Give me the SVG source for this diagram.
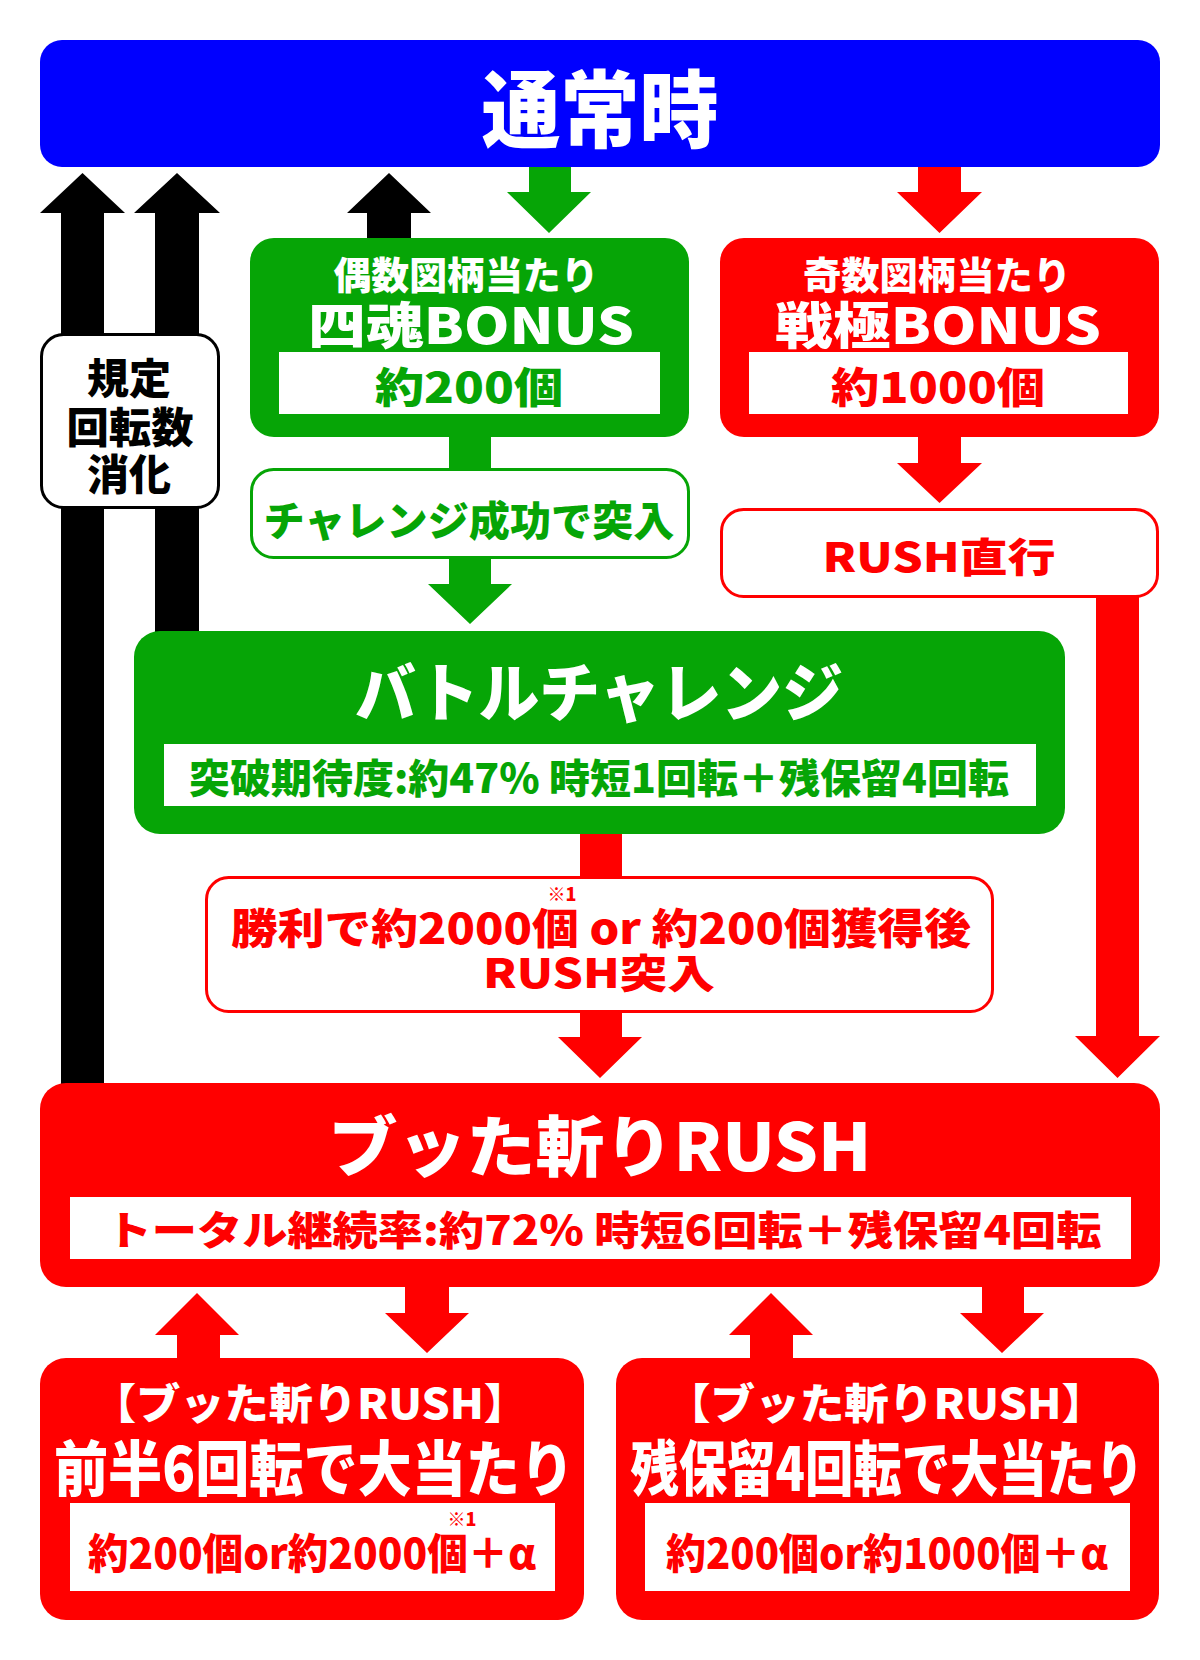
<svg xmlns="http://www.w3.org/2000/svg" width="1200" height="1660" viewBox="0 0 1200 1660">
<style>
text{font-family:"Noto Sans CJK JP","Noto Sans",sans-serif;font-weight:900;text-anchor:middle;dominant-baseline:central}
.w{fill:#fff}.g{fill:#06A506}.r{fill:#FF0000}.k{fill:#000}
.blue{fill:#0000FF}.gb{fill:#06A506}.rb{fill:#FF0000}
.wbox{fill:#fff}
.gout{fill:#fff;stroke:#06A506;stroke-width:3}
.rout{fill:#fff;stroke:#FF0000;stroke-width:3}
.kout{fill:#fff;stroke:#000;stroke-width:3}
</style>
<rect width="1200" height="1660" fill="#fff"/>
<g id="connectors">
  <!-- black up arrows -->
  <polygon class="k" points="61,1084 61,213 40,213 82.5,173 125,213 104,213 104,1084"/>
  <polygon class="k" points="155,632 155,213 134,213 177,173 220,213 199,213 199,632"/>
  <polygon class="k" points="367,240 367,213 347,213 389,173 431,213 411,213 411,240"/>
  <!-- green arrows -->
  <polygon class="g" points="529,166 529,192 507,192 549,233 591,192 571,192 571,166"/>
  <rect class="g" x="449" y="436" width="42" height="34"/>
  <polygon class="g" points="449,557 449,584 428,584 470,624 512,584 491,584 491,557"/>
  <!-- red arrows -->
  <polygon class="r" points="918,166 918,192 897,192 939.5,233 982,192 961,192 961,166"/>
  <polygon class="r" points="918,436 918,463 897,463 939.5,503 982,463 961,463 961,436"/>
  <polygon class="r" points="1096,596 1096,1036 1075,1036 1117.5,1078 1160,1036 1139,1036 1139,596"/>
  <rect class="r" x="580" y="833" width="42" height="45"/>
  <polygon class="r" points="580,1010 580,1037 558,1037 600,1078 642,1037 622,1037 622,1010"/>
  <!-- RUSH <-> sub boxes -->
  <polygon class="r" points="177,1360 177,1335 155,1335 197,1293 239,1335 220,1335 220,1360"/>
  <polygon class="r" points="405,1286 405,1313 385,1313 427,1353 469,1313 449,1313 449,1286"/>
  <polygon class="r" points="750,1360 750,1335 729,1335 771,1293 813,1335 793,1335 793,1360"/>
  <polygon class="r" points="982,1286 982,1313 960,1313 1002,1353 1044,1313 1024,1313 1024,1286"/>
</g>
<g id="normal">
  <rect class="blue" x="40" y="40" width="1120" height="127" rx="22"/>
  <text class="w" x="600" y="104" font-size="84" textLength="237" lengthAdjust="spacingAndGlyphs">通常時</text>
</g>
<g id="spin-count">
  <rect class="kout" x="41.5" y="334.5" width="177" height="173" rx="22"/>
  <text class="k" x="129" y="375" font-size="42">規定</text>
  <text class="k" x="130" y="424" font-size="42" textLength="127" lengthAdjust="spacingAndGlyphs">回転数</text>
  <text class="k" x="129" y="471" font-size="42">消化</text>
</g>
<g id="even-bonus">
  <rect class="gb" x="250" y="238" width="439" height="199" rx="24"/>
  <text class="w" x="466" y="272" font-size="38" textLength="265" lengthAdjust="spacingAndGlyphs">偶数図柄当たり</text>
  <text class="w" x="471" y="322" font-size="50" textLength="326" lengthAdjust="spacingAndGlyphs">四魂BONUS</text>
  <rect class="wbox" x="279" y="352" width="381" height="62"/>
  <text class="g" x="469" y="384" font-size="42" textLength="188" lengthAdjust="spacingAndGlyphs">約200個</text>
</g>
<g id="odd-bonus">
  <rect class="rb" x="720" y="238" width="439" height="199" rx="24"/>
  <text class="w" x="937" y="272" font-size="38" textLength="268" lengthAdjust="spacingAndGlyphs">奇数図柄当たり</text>
  <text class="w" x="938" y="322" font-size="50" textLength="326" lengthAdjust="spacingAndGlyphs">戦極BONUS</text>
  <rect class="wbox" x="749" y="352" width="379" height="62"/>
  <text class="r" x="938" y="384" font-size="42" textLength="214" lengthAdjust="spacingAndGlyphs">約1000個</text>
</g>
<g id="challenge-entry">
  <rect class="gout" x="251.5" y="469.5" width="437" height="88" rx="22"/>
  <text class="g" x="469" y="518" font-size="41" textLength="411" lengthAdjust="spacingAndGlyphs">チャレンジ成功で突入</text>
</g>
<g id="rush-direct">
  <rect class="rout" x="721.5" y="509.5" width="436" height="87" rx="22"/>
  <text class="r" x="939" y="555" font-size="40" textLength="233" lengthAdjust="spacingAndGlyphs">RUSH直行</text>
</g>
<g id="battle-challenge">
  <rect class="gb" x="134" y="631" width="931" height="203" rx="26"/>
  <text class="w" x="599" y="688" font-size="64" textLength="488" lengthAdjust="spacingAndGlyphs">バトルチャレンジ</text>
  <rect class="wbox" x="164" y="744" width="872" height="62"/>
  <text class="g" x="599" y="776" font-size="40" textLength="820" lengthAdjust="spacingAndGlyphs">突破期待度:約47% 時短1回転＋残保留4回転</text>
</g>
<g id="win-entry">
  <rect class="rout" x="206.5" y="877.5" width="786" height="134" rx="22"/>
  <text class="r" x="562" y="893" font-size="18">※1</text>
  <text class="r" x="601" y="925" font-size="42" textLength="740" lengthAdjust="spacingAndGlyphs">勝利で約2000個 or 約200個獲得後</text>
  <text class="r" x="599" y="971" font-size="40" textLength="232" lengthAdjust="spacingAndGlyphs">RUSH突入</text>
</g>
<g id="rush">
  <rect class="rb" x="40" y="1083" width="1120" height="204" rx="26"/>
  <text class="w" x="600" y="1142" font-size="66" textLength="543" lengthAdjust="spacingAndGlyphs">ブッた斬りRUSH</text>
  <rect class="wbox" x="70" y="1197" width="1061" height="62"/>
  <text class="r" x="604" y="1228" font-size="40" textLength="995" lengthAdjust="spacingAndGlyphs">トータル継続率:約72% 時短6回転＋残保留4回転</text>
</g>
<g id="first-half">
  <rect class="rb" x="40" y="1358" width="544" height="262" rx="26"/>
  <text class="w" x="310" y="1400" font-size="42" textLength="436" lengthAdjust="spacingAndGlyphs">【ブッた斬りRUSH】</text>
  <text class="w" x="314" y="1464" font-size="60" textLength="520" lengthAdjust="spacingAndGlyphs">前半6回転で大当たり</text>
  <rect class="wbox" x="70" y="1503" width="485" height="88"/>
  <text class="r" x="462" y="1518" font-size="18">※1</text>
  <text class="r" x="312" y="1550" font-size="42" textLength="448" lengthAdjust="spacingAndGlyphs">約200個or約2000個＋α</text>
</g>
<g id="remaining-hold">
  <rect class="rb" x="616" y="1358" width="543" height="262" rx="26"/>
  <text class="w" x="886" y="1400" font-size="42" textLength="440" lengthAdjust="spacingAndGlyphs">【ブッた斬りRUSH】</text>
  <text class="w" x="887" y="1464" font-size="60" textLength="513" lengthAdjust="spacingAndGlyphs">残保留4回転で大当たり</text>
  <rect class="wbox" x="645" y="1503" width="485" height="88"/>
  <text class="r" x="887" y="1550" font-size="42" textLength="442" lengthAdjust="spacingAndGlyphs">約200個or約1000個＋α</text>
</g>
</svg>
